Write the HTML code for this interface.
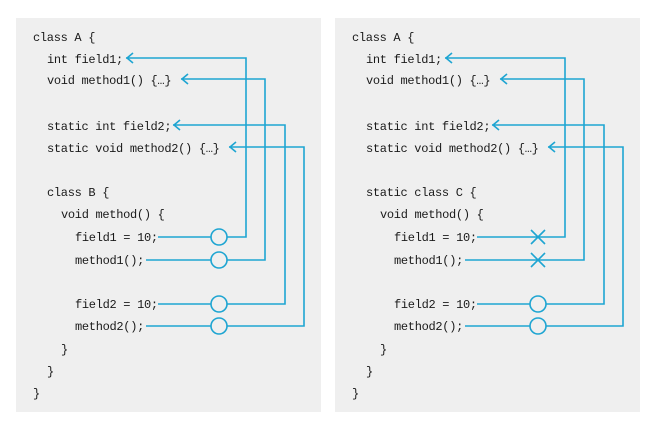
<!DOCTYPE html>
<html><head><style>
html,body{margin:0;padding:0;background:#fff;}
svg{display:block;}
text{font-family:"Liberation Mono",monospace;font-size:12px;letter-spacing:-0.3px;fill:#1a1a1a;}
</style></head><body>
<svg width="661" height="432" viewBox="0 0 661 432" xmlns="http://www.w3.org/2000/svg">
<rect x="16" y="18" width="305" height="394" fill="#efefef"/>
<rect x="335" y="18" width="305" height="394" fill="#efefef"/>
<defs>
<g id="code">
<text x="33" y="41">class A {</text>
<text x="47" y="63">int field1;</text>
<text x="47" y="84">void method1() {…}</text>
<text x="47" y="130">static int field2;</text>
<text x="47" y="152">static void method2() {…}</text>
<text x="61" y="218">void method() {</text>
<text x="75" y="241">field1 = 10;</text>
<text x="75" y="264">method1();</text>
<text x="75" y="308">field2 = 10;</text>
<text x="75" y="330">method2();</text>
<text x="61" y="353">}</text>
<text x="47" y="375">}</text>
<text x="33" y="397">}</text>
<g fill="none" stroke="#1ea5d2" stroke-width="1.6">
<path d="M126 58 H246 V237 H158"/>
<path d="M181 79 H265 V260 H146"/>
<path d="M173 125 H285 V304 H158"/>
<path d="M229 147 H304 V326 H146"/>
<path d="M133 53 L127 58 L133 63"/>
<path d="M188 74 L182 79 L188 84"/>
<path d="M180 120 L174 125 L180 130"/>
<path d="M236 142 L230 147 L236 152"/>
</g>
</g>
</defs>
<use href="#code"/>
<text x="47" y="196">class B {</text>
<use href="#code" transform="translate(319 0)"/>
<text x="366" y="196">static class C {</text>
<g fill="#efefef" stroke="#1ea5d2" stroke-width="1.6">
<circle cx="219" cy="237" r="8"/>
<circle cx="219" cy="260" r="8"/>
<circle cx="219" cy="304" r="8"/>
<circle cx="219" cy="326" r="8"/>
<circle cx="538" cy="304" r="8"/>
<circle cx="538" cy="326" r="8"/>
<path d="M531 230 L545 244 M545 230 L531 244 M531 253 L545 267 M545 253 L531 267" fill="none"/>
</g>
</svg>
</body></html>
